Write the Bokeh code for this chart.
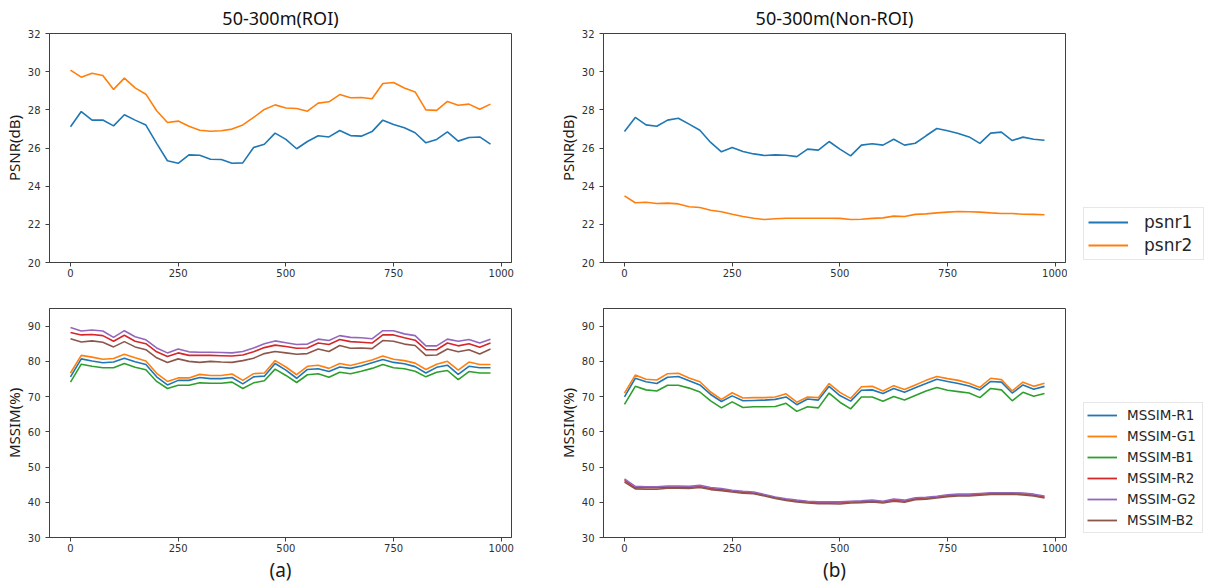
from bokeh.plotting import figure
from bokeh.layouts import row, column
from bokeh.models import Range1d, FixedTicker, Legend, LegendItem
from bokeh.embed import file_html
from bokeh.resources import INLINE

# ---------------- data ----------------
frames = list(range(0, 1000, 25))

psnr1_roi = [27.11, 27.91, 27.46, 27.47, 27.16, 27.74, 27.46, 27.20, 26.24, 25.33,
             25.20, 25.64, 25.62, 25.41, 25.40, 25.20, 25.22, 26.03, 26.20, 26.78,
             26.45, 25.96, 26.34, 26.64, 26.58, 26.92, 26.65, 26.62, 26.86, 27.46,
             27.23, 27.06, 26.80, 26.27, 26.45, 26.85, 26.36, 26.55, 26.58, 26.20]
psnr2_roi = [30.08, 29.71, 29.92, 29.80, 29.07, 29.66, 29.15, 28.82, 27.95, 27.34,
             27.41, 27.14, 26.93, 26.88, 26.90, 26.99, 27.21, 27.60, 28.02, 28.26,
             28.10, 28.07, 27.93, 28.35, 28.42, 28.80, 28.63, 28.65, 28.58, 29.38,
             29.43, 29.14, 28.94, 28.00, 27.97, 28.44, 28.24, 28.30, 28.03, 28.30]

psnr1_non = [26.86, 27.60, 27.21, 27.14, 27.46, 27.56, 27.25, 26.93, 26.29, 25.80,
             26.03, 25.82, 25.69, 25.61, 25.64, 25.62, 25.55, 25.94, 25.89, 26.34,
             25.94, 25.59, 26.15, 26.22, 26.15, 26.46, 26.15, 26.25, 26.64, 27.02,
             26.90, 26.76, 26.58, 26.24, 26.78, 26.83, 26.39, 26.57, 26.46, 26.41]
psnr2_non = [23.49, 23.13, 23.16, 23.09, 23.11, 23.07, 22.92, 22.88, 22.74, 22.66,
             22.53, 22.41, 22.32, 22.25, 22.29, 22.32, 22.32, 22.32, 22.32, 22.32,
             22.31, 22.25, 22.27, 22.31, 22.34, 22.43, 22.41, 22.52, 22.55, 22.60,
             22.64, 22.67, 22.66, 22.64, 22.60, 22.57, 22.57, 22.53, 22.52, 22.50]

r1_roi = [75.6, 80.7, 80.1, 79.6, 79.8, 80.9, 79.9, 79.1, 75.6, 73.3,
          74.6, 74.6, 75.4, 75.1, 75.1, 75.4, 73.6, 75.6, 75.8, 79.4,
          77.5, 75.2, 77.7, 77.9, 77.1, 78.4, 78.0, 78.7, 79.6, 80.5,
          79.7, 79.3, 78.5, 76.7, 78.3, 78.9, 76.3, 78.6, 78.2, 78.2]
g1_roi = [76.7, 81.7, 81.2, 80.6, 80.8, 82.0, 81.0, 80.1, 76.6, 74.3,
          75.3, 75.3, 76.3, 76.0, 76.0, 76.4, 74.6, 76.5, 76.7, 80.2,
          78.4, 76.2, 78.6, 78.9, 78.0, 79.4, 78.8, 79.6, 80.4, 81.5,
          80.6, 80.2, 79.5, 77.7, 79.2, 80.0, 77.5, 79.8, 79.1, 79.1]
b1_roi = [74.1, 79.2, 78.6, 78.2, 78.2, 79.4, 78.3, 77.6, 74.3, 72.3,
          73.2, 73.2, 73.9, 73.8, 73.8, 74.1, 72.3, 73.9, 74.5, 77.8,
          76.0, 74.0, 76.2, 76.5, 75.5, 76.9, 76.5, 77.2, 78.0, 79.1,
          78.2, 77.9, 77.2, 75.6, 76.9, 77.4, 74.8, 77.1, 76.7, 76.7]
r2_roi = [88.2, 87.5, 87.6, 87.3, 85.7, 87.4, 85.7, 85.0, 82.7, 81.4,
          82.4, 81.7, 81.7, 81.7, 81.6, 81.5, 81.8, 82.7, 83.9, 84.6,
          84.2, 83.7, 83.8, 85.2, 84.8, 86.2, 85.6, 85.4, 85.2, 87.5,
          87.5, 86.7, 86.0, 83.3, 83.3, 85.2, 84.4, 85.0, 84.0, 85.2]
g2_roi = [89.6, 88.6, 88.9, 88.6, 86.8, 88.7, 87.0, 86.1, 83.8, 82.4,
          83.5, 82.7, 82.6, 82.6, 82.5, 82.4, 82.8, 83.8, 85.0, 85.8,
          85.3, 84.8, 84.9, 86.3, 85.9, 87.3, 86.8, 86.7, 86.4, 88.7,
          88.7, 87.8, 87.3, 84.4, 84.4, 86.3, 85.7, 86.2, 85.2, 86.3]
b2_roi = [86.4, 85.5, 85.8, 85.4, 84.1, 85.6, 84.1, 83.3, 81.0, 79.7,
          80.7, 80.0, 79.7, 80.0, 79.8, 79.7, 80.2, 80.9, 82.2, 82.8,
          82.4, 82.0, 82.2, 83.5, 82.8, 84.5, 83.7, 83.8, 83.6, 85.9,
          85.7, 84.9, 84.5, 81.7, 81.8, 83.5, 82.7, 83.3, 82.1, 83.5]

r1_non = [69.9, 75.2, 74.2, 73.7, 75.5, 75.7, 74.5, 73.3, 70.6, 68.6,
          70.2, 68.8, 68.9, 69.0, 69.2, 69.9, 67.7, 69.3, 69.0, 72.9,
          70.3, 68.7, 71.8, 71.9, 70.9, 72.3, 71.2, 72.5, 73.7, 74.9,
          74.3, 73.7, 73.0, 71.9, 74.3, 74.1, 71.0, 73.3, 72.1, 72.9]
g1_non = [71.0, 76.1, 74.9, 74.7, 76.5, 76.6, 75.3, 74.2, 71.3, 69.2,
          71.1, 69.6, 69.7, 69.7, 69.9, 70.8, 68.4, 69.9, 69.7, 73.7,
          71.2, 69.5, 72.8, 72.9, 71.6, 73.1, 72.0, 73.3, 74.6, 75.7,
          75.1, 74.6, 73.8, 72.6, 75.2, 74.8, 71.6, 74.1, 72.9, 73.8]
b1_non = [67.8, 72.9, 71.9, 71.6, 73.2, 73.2, 72.4, 71.3, 68.8, 66.8,
          68.5, 66.9, 67.1, 67.1, 67.2, 68.1, 65.8, 67.1, 66.8, 71.0,
          68.4, 66.5, 69.9, 69.9, 68.7, 70.0, 69.0, 70.3, 71.6, 72.6,
          71.8, 71.4, 71.0, 69.7, 72.3, 71.9, 68.8, 71.2, 70.1, 70.9]
r2_non = [46.2, 44.1, 44.1, 44.1, 44.3, 44.3, 44.2, 44.5, 43.9, 43.6,
          43.2, 42.8, 42.6, 42.0, 41.3, 40.8, 40.4, 40.1, 39.9, 39.9,
          39.9, 40.1, 40.2, 40.4, 40.1, 40.6, 40.3, 41.0, 41.2, 41.5,
          41.9, 42.1, 42.1, 42.3, 42.5, 42.5, 42.6, 42.4, 42.0, 41.5]
g2_non = [46.6, 44.5, 44.4, 44.4, 44.6, 44.6, 44.5, 44.8, 44.2, 43.9,
          43.4, 43.1, 42.9, 42.2, 41.5, 41.0, 40.6, 40.3, 40.1, 40.1,
          40.1, 40.3, 40.4, 40.6, 40.3, 40.9, 40.6, 41.3, 41.4, 41.7,
          42.1, 42.3, 42.3, 42.5, 42.7, 42.7, 42.7, 42.6, 42.3, 41.8]
b2_non = [45.7, 43.8, 43.7, 43.7, 44.0, 44.0, 43.9, 44.2, 43.6, 43.3,
          42.9, 42.6, 42.4, 41.8, 41.1, 40.5, 40.1, 39.8, 39.6, 39.6,
          39.5, 39.8, 39.9, 40.1, 39.8, 40.3, 40.0, 40.7, 40.9, 41.2,
          41.6, 41.8, 41.8, 42.0, 42.2, 42.2, 42.3, 42.1, 41.8, 41.2]

x_ticks = [0, 250, 500, 750, 1000]
psnr_ticks = [20, 22, 24, 26, 28, 30, 32]
mssim_ticks = [30, 40, 50, 60, 70, 80, 90]

psnr_names = ["psnr1", "psnr2"]
mssim_names = ["MSSIM-R1", "MSSIM-G1", "MSSIM-B1", "MSSIM-R2", "MSSIM-G2", "MSSIM-B2"]
titles = ["50-300m(ROI)", "50-300m(Non-ROI)"]
sub_labels = ["(a)", "(b)"]

colors = ["#1f77b4", "#ff7f0e", "#2ca02c", "#d62728", "#9467bd", "#8c564b"]

# ---------------- styling helpers ----------------
AX = "#404040"
TICK_TXT = "#303030"


def make_fig(w, h, bl, br, bt, bb, yr, yticks, ylabel, title=None, sub=None):
    p = figure(width=w, height=h, output_backend="svg", toolbar_location=None,
               x_range=Range1d(-48.75, 1023.75), y_range=Range1d(*yr),
               min_border_left=bl, min_border_right=br,
               min_border_top=bt, min_border_bottom=bb,
               background_fill_color="white", border_fill_color="white")
    p.grid.visible = False
    p.outline_line_color = AX
    p.outline_line_width = 1
    p.xaxis.ticker = FixedTicker(ticks=x_ticks)
    p.yaxis.ticker = FixedTicker(ticks=yticks)
    for ax in (p.xaxis, p.yaxis):
        ax.axis_line_color = AX
        ax.major_tick_line_color = AX
        ax.major_tick_out = 4
        ax.major_tick_in = 0
        ax.minor_tick_line_color = None
        ax.major_label_text_font = "DejaVu Sans"
        ax.major_label_text_font_size = "10px"
        ax.major_label_text_color = TICK_TXT
    p.xaxis.major_label_standoff = 2
    p.yaxis.major_label_standoff = 5
    p.yaxis.axis_label = ylabel
    p.yaxis.axis_label_text_font = "Noto Sans"
    p.yaxis.axis_label_text_font_size = "15px"
    p.yaxis.axis_label_text_font_style = "normal"
    p.yaxis.axis_label_text_color = "#1a1a1a"
    p.yaxis.axis_label_standoff = 1
    if sub:
        p.xaxis.axis_label = sub
        p.xaxis.axis_label_text_font = "Noto Sans"
        p.xaxis.axis_label_text_font_size = "19px"
        p.xaxis.axis_label_text_font_style = "normal"
        p.xaxis.axis_label_text_color = "#1a1a1a"
        p.xaxis.axis_label_standoff = 2
    if title:
        p.title.text = title
        p.title.align = "center"
        p.title.text_font = "Noto Sans"
        p.title.text_font_size = "18px"
        p.title.text_font_style = "normal"
        p.title.text_color = "#111111"
        p.title.standoff = 7
    return p


# ---------------- figures ----------------
tl = make_fig(540, 290, 48, 29, 33, 28, (20, 32), psnr_ticks, "PSNR(dB)", title=titles[0])
tl.line(frames, psnr1_roi, color=colors[0], line_width=1.6)
tl.line(frames, psnr2_roi, color=colors[1], line_width=1.6)

bl = make_fig(540, 296, 48, 29, 18, 49, (30, 95), mssim_ticks, "MSSIM(%)", sub=sub_labels[0])
for ys, c in zip([r1_roi, g1_roi, b1_roi, r2_roi, g2_roi, b2_roi], colors):
    bl.line(frames, ys, color=c, line_width=1.6)

tr = make_fig(527, 290, 63, 2, 33, 28, (20, 32), psnr_ticks, "PSNR(dB)", title=titles[1])
tr.line(frames, psnr1_non, color=colors[0], line_width=1.6)
tr.line(frames, psnr2_non, color=colors[1], line_width=1.6)

br = make_fig(527, 296, 63, 2, 18, 49, (30, 95), mssim_ticks, "MSSIM(%)", sub=sub_labels[1])
for ys, c in zip([r1_non, g1_non, b1_non, r2_non, g2_non, b2_non], colors):
    br.line(frames, ys, color=c, line_width=1.6)


def legend_fig(h, names, cols, loc, glyph_w, font_size, standoff, pad, row_h, spacing, lab_w):
    p = figure(width=142, height=h, output_backend="svg", toolbar_location=None,
               x_range=Range1d(0, 1), y_range=Range1d(0, 1),
               x_axis_type=None, y_axis_type=None,
               min_border_left=0, min_border_right=0, min_border_top=0, min_border_bottom=0,
               background_fill_color="white", border_fill_color="white")
    p.grid.visible = False
    p.outline_line_color = None
    items = []
    for n, c in zip(names, cols):
        r = p.line([0.5, 0.5], [float("nan"), float("nan")], color=c, line_width=1.8)
        items.append(LegendItem(label=n, renderers=[r]))
    lg = Legend(items=items, location=loc, margin=0, padding=pad, spacing=spacing,
                glyph_width=glyph_w, glyph_height=row_h, label_height=row_h,
                label_width=lab_w, label_standoff=standoff, label_text_font="DejaVu Sans",
                label_text_font_size=font_size, label_text_color="#262626",
                border_line_color="#d0d0d0", border_line_width=1,
                background_fill_color="white", background_fill_alpha=1.0)
    p.add_layout(lg, "center")
    return p


leg_top = legend_fig(290, psnr_names, colors[:2], (16, 30), 40, "17px", 16, 4, 18, 3, 55)
leg_bot = legend_fig(296, mssim_names, colors, (16, 53), 30, "13.5px", 10, 3, 18, 3, 72)

layout = row(column(tl, bl), column(tr, br), column(leg_top, leg_bot))

open("out.html", "w").write(file_html(layout, INLINE))
